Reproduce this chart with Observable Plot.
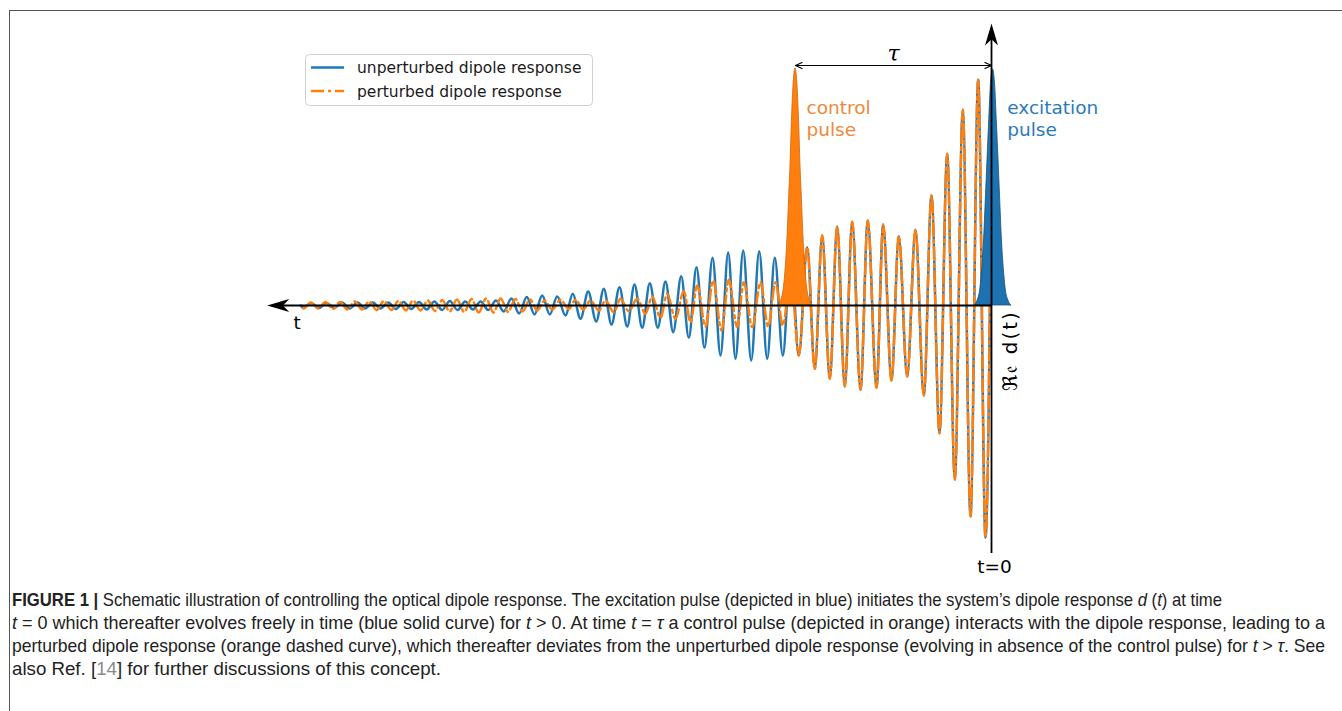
<!DOCTYPE html>
<html><head><meta charset="utf-8">
<script src="https://cdn.jsdelivr.net/npm/d3@7"></script>
<script src="https://cdn.jsdelivr.net/npm/@observablehq/plot@0.6"></script>
<style>
body{margin:0;background:#fff;}
#wrap{position:relative;width:1342px;height:711px;overflow:hidden;font-family:"DejaVu Sans",sans-serif;}
#frame{position:absolute;left:9px;top:10px;width:1400px;height:800px;border-left:1px solid #555;border-top:1px solid #555;}
#chart{position:absolute;left:0;top:0;}
#overlay{position:absolute;left:0;top:0;pointer-events:none;}
#caption{position:absolute;left:12px;top:588px;font-family:"Liberation Sans","Arimo",sans-serif;font-size:19px;line-height:23px;color:#222;white-space:nowrap;}
#caption .ln{display:block;transform-origin:0 50%;}
#caption .ref{color:#8a8a8a;}
</style></head>
<body><div id="wrap"><div id="frame"></div><div id="chart"></div><svg id="overlay" width="1342" height="580"></svg>
<div id="caption">
<span class="ln" data-w="1210"><b>FIGURE 1 |</b> Schematic illustration of controlling the optical dipole response. The excitation pulse (depicted in blue) initiates the system’s dipole response <i>d</i> (<i>t</i>) at time</span>
<span class="ln" data-w="1313"><i>t</i> = 0 which thereafter evolves freely in time (blue solid curve) for <i>t</i> &gt; 0. At time <i>t</i> = <i>τ</i> a control pulse (depicted in orange) interacts with the dipole response, leading to a</span>
<span class="ln" data-w="1313">perturbed dipole response (orange dashed curve), which thereafter deviates from the unperturbed dipole response (evolving in absence of the control pulse) for <i>t</i> &gt; <i>τ</i>. See</span>
<span class="ln" data-w="429">also Ref. [<span class="ref">14</span>] for further discussions of this concept.</span>
</div>
</div>
<script>
// time t (t = 0 at the excitation pulse, increasing to the left), Re d(t) in arbitrary units
const TAU = 196;          // control pulse time
const T_EXC = -1.5;       // excitation pulse centre

// extrema of the common response between the two pulses [t, Re d]
const sharedPart = [[0,150],[6,-232],[13.3,225.7],[21,-211],[28.7,195.7],[36.7,-174],[44.3,151.7],[52,-127.7],[60,110],[67.7,-90],[76,75.7],[84.3,-71],[92.7,69.3],[100,-75],[108.3,81],[115,-82.3],[123.7,85],[131,-84.3],[139.3,83.7],[146.7,-81],[154.3,79],[161.7,-73.3],[169.3,70],[176.7,-63.3],[184.3,58.3],[192.7,-50]];

// unperturbed response after t = tau
const blueAfter = [[200.7,52],[208.7,-50],[216.7,47.7],[224.3,-53.3],[232.3,54.3],[240.3,-55],[248.3,55],[256,-53.3],[263.3,53],[271,-50],[279,47.7],[287,-42.3],[295,38.3],[302.7,-32.3],[310.3,29.3],[318.3,-26.7],[326,24],[333.7,-22.3],[341.7,22.3],[349.3,-22.3],[357,21],[364.3,-21],[372,18.3],[380,-19],[387.7,16.7],[395.3,-16],[403.3,14],[411,-13.3],[418.7,11.7],[426,-10],[434.3,9],[441.7,-9],[449.3,10],[457,-9],[464.7,8.5],[472.4,-8],[480.1,7],[487.8,-6],[495.5,5],[503.2,-4.5],[510.9,4],[518.6,-4],[526.3,4],[534,-4.5],[541.7,4.5],[549.4,-4.5],[557.1,4],[564.8,-4],[572.5,3.5],[580.2,-3.5],[587.9,3.5],[595.6,-3.5],[603.3,3],[611,-3],[618.7,3],[626.4,-3],[634.1,3],[641.8,-3],[649.5,3],[657.2,-2.5],[664.9,2.5],[672.6,-2.5],[680.3,2.5],[688,-2],[691,0]];

// perturbed response after t = tau
const orangeAfter = [[200.7,30],[208.7,-20],[216,23.3],[223.3,-21],[231,23.3],[239.3,-21.7],[247.7,23.3],[254.3,-21.7],[262.7,25.7],[270,-25],[278.3,25],[286,-21],[294.3,20],[301,-16.7],[307.7,14.3],[316,-13.3],[324.3,11.7],[331,-12.3],[339.3,9],[346,-8.3],[354.3,6.7],[362.7,-5.7],[371,6.7],[377.7,-6.7],[386,5],[392.7,-5],[401,5],[408.3,-4],[416,5.7],[422.7,-3.5],[431,5.7],[439.3,-4],[447,5],[454.3,-5],[461.6,6],[468.9,-6],[476.2,6.5],[483.5,-6.5],[490.8,7],[498.1,-7],[505.4,7],[512.7,-7],[520,6.5],[527.3,-6.5],[534.6,6],[541.9,-6],[549.2,5.5],[556.5,-5.5],[563.8,5],[571.1,-5],[578.4,5],[585.7,-5],[593,4.5],[600.3,-4.5],[607.6,4.5],[614.9,-4.5],[622.2,4],[629.5,-4],[636.8,4],[644.1,-4],[651.4,3.5],[658.7,-3.5],[666,3.5],[673.3,-3],[680.6,3],[687.9,-3],[691,0]];

// pulse envelopes [offset from centre, height]
const controlProfile = [[-17,0],[-14,6],[-12,15],[-10,35],[-8,68],[-6.2,112],[-5,140],[-3.8,178],[-2,220],[0,237],[2,220],[3.8,178],[5,140],[6.2,112],[8,68],[10,35],[12,15],[14,6],[17,0]];
const exciteProfile = [[-18,0],[-15,6],[-13,14],[-11,34],[-9,64],[-7,110],[-5.5,146],[-4,180],[-2,222],[0,236],[2,222],[4,180],[5.5,146],[7,110],[9,64],[11,34],[13,14],[15,6],[18,0]];

const legendItems = [
  {label: "unperturbed dipole response", color: "#1f77b4", dash: null},
  {label: "perturbed dipole response", color: "#ff7f0e", dash: "13,4,3,4"}
];

const BLUE = "#1f77b4", ORANGE = "#ff7f0e";
const toObj = ([t, d]) => ({t, d});
const blueData = sharedPart.concat(blueAfter).map(toObj);
const orangeData = sharedPart.concat(orangeAfter).map(toObj);
const controlPulse = controlProfile.map(([o, h]) => ({t: TAU + o, d: h}));
const excitePulse = exciteProfile.map(([o, h]) => ({t: T_EXC + o, d: h}));

const stealth = {
  draw(context, l) {
    const w = 6.5;
    context.moveTo(0, -l);
    context.lineTo(w, 0);
    context.lineTo(0, -l * 0.28);
    context.lineTo(-w, 0);
    context.closePath();
  }
};

const axisH = [{t1: 0, t2: 712}];
const axisV = [{d1: -248, d2: 270}];
const heads = [{t: 0, d: 282, a: 0}, {t: 724.3, d: 0, a: -90}];
const tauArrows = [{t1: TAU / 2, t2: TAU, d: 240}, {t1: TAU / 2, t2: 0, d: 240}];

const chart = Plot.plot({
  width: 1342, height: 580, margin: 0,
  x: {domain: [0, 725], range: [991, 266], axis: null},
  y: {domain: [-240, 240], range: [545, 65], axis: null},
  style: {fontFamily: "DejaVu Sans, sans-serif", background: "transparent", overflow: "visible"},
  marks: [
    Plot.line(blueData, {x: "t", y: "d", stroke: BLUE, strokeWidth: 2.5, curve: "monotone-x"}),
    Plot.line(orangeData, {x: "t", y: "d", stroke: ORANGE, strokeWidth: 2.5, strokeDasharray: "13,4,3,4", curve: "monotone-x"}),
    Plot.areaY(controlPulse, {x: "t", y: "d", fill: ORANGE, stroke: "#d0660a", strokeWidth: 0.8, curve: "monotone-x"}),
    Plot.areaY(excitePulse, {x: "t", y: "d", fill: "#1f72b0", stroke: "#17507c", strokeWidth: 0.8, curve: "monotone-x"}),
    Plot.ruleY(axisH, {y: 0, x1: "t1", x2: "t2", stroke: "black", strokeWidth: 2}),
    Plot.ruleX(axisV, {x: 0, y1: "d1", y2: "d2", stroke: "black", strokeWidth: 1.8}),
    Plot.vector(heads, {x: "t", y: "d", rotate: "a", length: 22, anchor: "end", shape: stealth, fill: "black", stroke: "none"}),
    Plot.arrow(tauArrows, {x1: "t1", x2: "t2", y1: "d", y2: "d", stroke: "black", strokeWidth: 1.2, headLength: 9, headAngle: 50, inset: 0}),
    Plot.text(["τ"], {x: TAU / 2, y: 245, fontSize: 22, fontStyle: "italic", fontFamily: "DejaVu Serif, serif", lineAnchor: "bottom", fill: "black"}),
    Plot.text(["control\npulse"], {x: TAU - 11, y: 170, fontSize: 18.5, lineHeight: 1.16, textAnchor: "start", lineAnchor: "bottom", fill: "#ec8a3a"}),
    Plot.text(["excitation\npulse"], {x: -15.7, y: 170, fontSize: 18.5, lineHeight: 1.16, textAnchor: "start", lineAnchor: "bottom", fill: "#2b7bba"}),
    Plot.text(["t"], {x: 694.3, y: -23, fontSize: 18.5, lineAnchor: "bottom", fill: "black"}),
    Plot.text(["t=0"], {x: -3, y: -267, fontSize: 18.5, lineAnchor: "bottom", fill: "black"}),
    Plot.text(["ℜ𝔢 d(t)"], {x: -25, y: -45, fontSize: 20, rotate: -90, lineAnchor: "bottom", fill: "black"})
  ]
});
document.getElementById("chart").appendChild(chart);
chart.querySelectorAll("text").forEach(el => { if (el.textContent.startsWith("ℜ")) el.setAttribute("letter-spacing", "2"); });

// legend
const ov = d3.select("#overlay");
const lg = ov.append("g");
lg.append("rect").attr("x", 305.5).attr("y", 54.5).attr("width", 287).attr("height", 51).attr("rx", 4)
  .attr("fill", "white").attr("fill-opacity", 0.8).attr("stroke", "#d0d0d0");
legendItems.forEach((it, i) => {
  const y = 67.5 + i * 23.5;
  lg.append("line").attr("x1", 311).attr("x2", 344).attr("y1", y).attr("y2", y)
    .attr("stroke", it.color).attr("stroke-width", 2.5).attr("stroke-dasharray", it.dash);
  lg.append("text").attr("x", 357).attr("y", y).attr("dy", "0.36em").attr("font-size", 15.5)
    .attr("font-family", "DejaVu Sans, sans-serif").attr("fill", "#1a1a1a").text(it.label);
});

// caption line widths (condensed face imitated by horizontal scaling)
document.querySelectorAll("#caption .ln").forEach(el => {
  el.style.display = "inline-block";
  const w = el.getBoundingClientRect().width;
  const target = +el.dataset.w;
  el.style.transform = `scaleX(${target / w})`;
  el.style.display = "block";
  el.style.width = w + "px";
});
</script>
</body></html>
